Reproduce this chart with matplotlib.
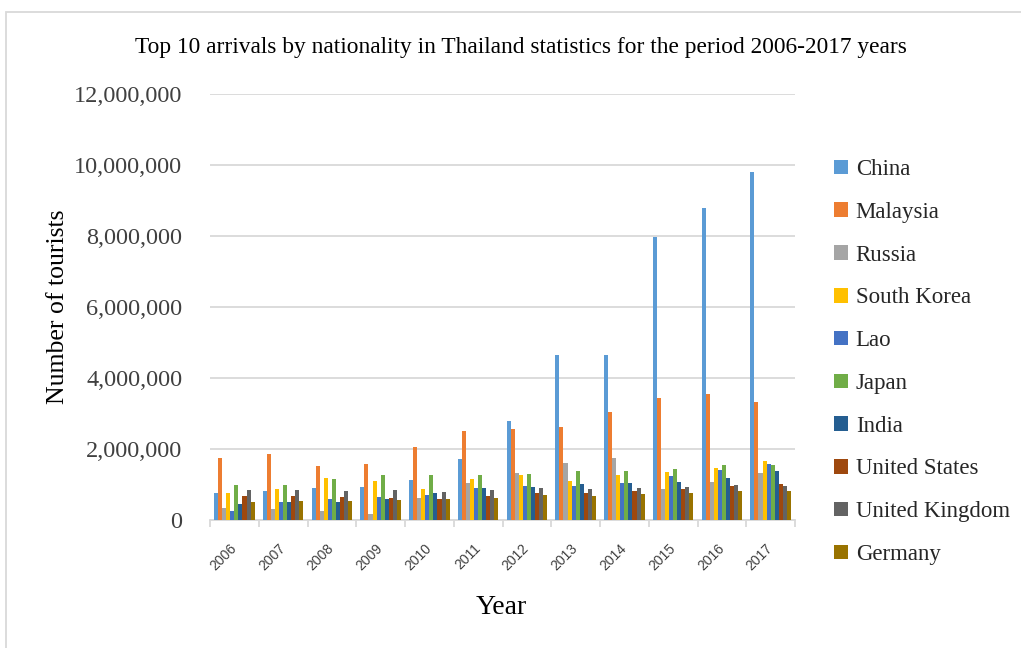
import numpy as np
import matplotlib
matplotlib.use("Agg")
import matplotlib.pyplot as plt
from matplotlib.patches import Patch, Rectangle
from matplotlib.ticker import FuncFormatter, FixedLocator

years = ["2006", "2007", "2008", "2009", "2010", "2011",
         "2012", "2013", "2014", "2015", "2016", "2017"]

countries = ["China", "Malaysia", "Russia", "South Korea", "Lao",
             "Japan", "India", "United States", "United Kingdom", "Germany"]

# arrivals per year (millions)
china = [0.76, 0.81, 0.90, 0.94, 1.12, 1.73, 2.80, 4.66, 4.65, 7.96, 8.79, 9.80]
malaysia = [1.76, 1.85, 1.53, 1.59, 2.06, 2.50, 2.56, 2.63, 3.05, 3.44, 3.54, 3.33]
russia = [0.33, 0.31, 0.25, 0.17, 0.63, 1.05, 1.31, 1.61, 1.75, 0.88, 1.08, 1.31]
south_korea = [0.75, 0.88, 1.18, 1.09, 0.88, 1.16, 1.26, 1.11, 1.28, 1.36, 1.46, 1.67]
lao = [0.26, 0.50, 0.60, 0.65, 0.71, 0.89, 0.96, 0.96, 1.04, 1.23, 1.41, 1.58]
japan = [0.98, 0.99, 1.16, 1.27, 1.27, 1.27, 1.30, 1.37, 1.38, 1.43, 1.54, 1.55]
india = [0.44, 0.52, 0.52, 0.60, 0.76, 0.91, 0.93, 1.01, 1.04, 1.06, 1.19, 1.37]
united_states = [0.68, 0.67, 0.66, 0.62, 0.60, 0.67, 0.75, 0.76, 0.81, 0.86, 0.97, 1.02]
united_kingdom = [0.85, 0.85, 0.81, 0.85, 0.79, 0.84, 0.91, 0.87, 0.90, 0.94, 1.00, 0.95]
germany = [0.51, 0.54, 0.53, 0.57, 0.60, 0.61, 0.71, 0.67, 0.73, 0.75, 0.82, 0.82]

series = [china, malaysia, russia, south_korea, lao, japan,
          india, united_states, united_kingdom, germany]

colors = ["#5B9BD5", "#ED7D31", "#A5A5A5", "#FFC000", "#4472C4",
          "#70AD47", "#255E91", "#9E480E", "#636363", "#997300"]

serif = ["Liberation Serif", "DejaVu Serif"]
W, H = 1021, 648
fig = plt.figure(figsize=(W / 100, H / 100), dpi=100)

# light frame around the chart area
fig.patches.append(Rectangle((6 / W, -0.05), 1.2, 1 - 12 / H + 0.05,
                             transform=fig.transFigure, fill=False,
                             edgecolor="#D9D9D9", linewidth=1.3))

ax = fig.add_axes([210 / W, 1 - 520 / H, 585 / W, 426 / H])

x = np.arange(len(years))
bw = 0.083
for i, (vals, c) in enumerate(zip(series, colors)):
    ax.bar(x + (i - 4.5) * bw, np.array(vals) * 1e6, width=bw,
           color=c, linewidth=0, zorder=3)

ax.set_xlim(-0.5, len(years) - 0.5)
ax.set_ylim(0, 12e6)
ax.set_yticks(np.arange(0, 12e6 + 1, 2e6))
ax.yaxis.set_major_formatter(FuncFormatter(lambda v, p: f"{int(v):,}"))
ax.grid(axis="y", color="#D9D9D9", linewidth=1.3, zorder=0)

for s in ["top", "right", "left"]:
    ax.spines[s].set_visible(False)
ax.spines["bottom"].set_color("#D9D9D9")
ax.spines["bottom"].set_linewidth(1.3)

ax.set_xticks(x)
ax.set_xticklabels(years, rotation=45, ha="right", va="center",
                   rotation_mode="anchor",
                   family=["Liberation Sans", "DejaVu Sans"], fontsize=10,
                   color="#404040")
ax.tick_params(axis="x", which="major", length=0, pad=19)
ax.xaxis.set_minor_locator(FixedLocator(np.arange(-0.5, len(years), 1.0)))
ax.tick_params(axis="x", which="minor", length=5, width=1.3, color="#D9D9D9")
ax.tick_params(axis="y", length=0, pad=20, labelsize=17.5, labelcolor="#404040")
for lab in ax.get_yticklabels():
    lab.set_family(serif)

fig.text(521 / W, 1 - 47 / H,
         "Top 10 arrivals by nationality in Thailand statistics for the period 2006-2017 years",
         ha="center", va="center", family=serif, fontsize=16.8, color="#000000")
fig.text(58 / W, 1 - 307 / H, "Number of tourists", rotation=90,
         ha="center", va="center", family=serif, fontsize=18.5, color="#000000")
fig.text(501 / W, 1 - 608 / H, "Year", ha="center", va="center",
         family=serif, fontsize=20, color="#000000")

handles = [Patch(facecolor=c, edgecolor="none") for c in colors]
fig.legend(handles, countries, loc="upper left",
           bbox_to_anchor=(834 / W, 1 - 159 / H), frameon=False,
           prop={"family": serif, "size": 16.5}, labelcolor="#262626",
           handlelength=0.6, handleheight=0.6, handletextpad=0.35,
           labelspacing=0.95, borderaxespad=0, borderpad=0)

fig.savefig("out.png", dpi=100)
